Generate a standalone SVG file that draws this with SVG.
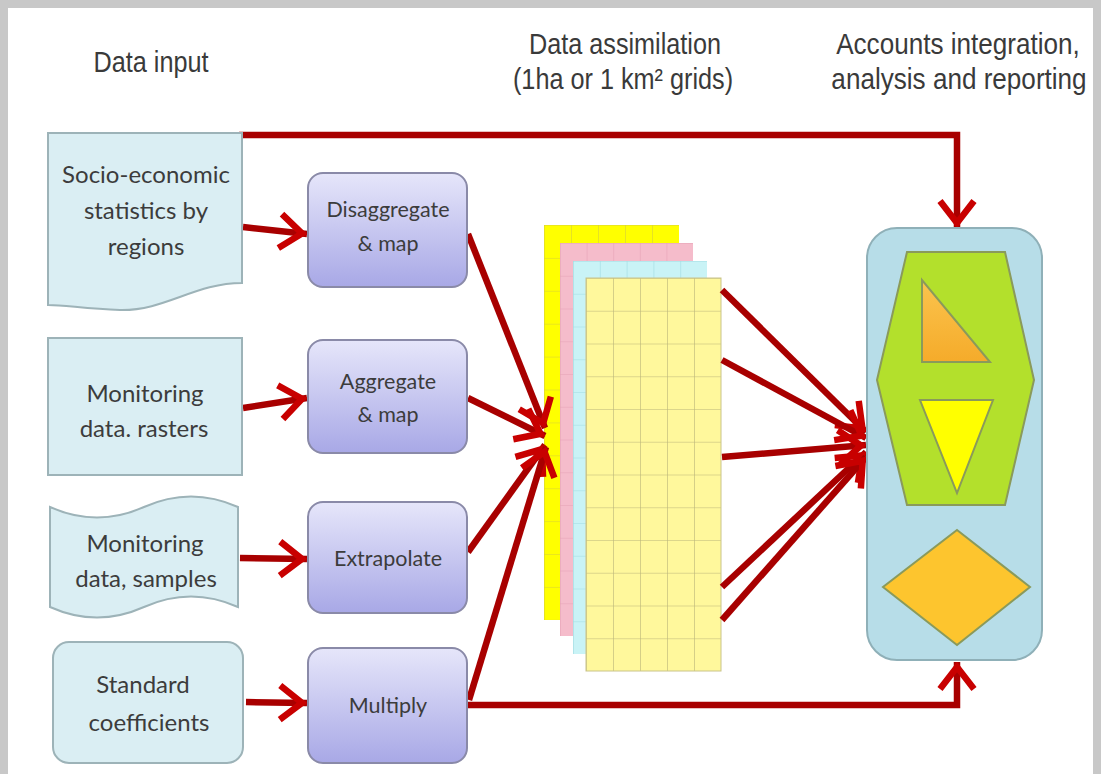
<svg xmlns="http://www.w3.org/2000/svg" width="1101" height="774" viewBox="0 0 1101 774">
<defs>
<style>
.title{font-family:"Liberation Sans",Arial,sans-serif;font-size:29px;fill:#3a3a3a;text-anchor:middle}
.lt{font-family:Lato,"Open Sans",sans-serif;font-size:24px;fill:#3c3c3c;text-anchor:middle}
.pt{font-family:Lato,"Open Sans",sans-serif;font-size:21.5px;fill:#3c3c3c;text-anchor:middle}
.inp{fill:#daeef3;stroke:#9db3b8;stroke-width:2}
.proc{fill:url(#pg);stroke:#8a8aa8;stroke-width:2}
.con{fill:none;stroke:#a80000;stroke-width:6.5;marker-end:url(#ah)}
.shp{stroke:#8a9a5b;stroke-width:2}
</style>
<linearGradient id="pg" x1="0" y1="0" x2="0" y2="1">
<stop offset="0" stop-color="#e6e6fa"/>
<stop offset="1" stop-color="#a8a8e6"/>
</linearGradient>
<linearGradient id="og" x1="0" y1="0" x2="0" y2="1">
<stop offset="0" stop-color="#fbc44e"/>
<stop offset="1" stop-color="#f5ab2a"/>
</linearGradient>
<marker id="ah" markerUnits="userSpaceOnUse" markerWidth="50" markerHeight="50" viewBox="-36 -25 50 50" refX="0" refY="0" orient="auto" overflow="visible">
<path d="M-27,-17 L-5,0 L-27,17" fill="none" stroke="#c80000" stroke-width="6.5"/>
</marker>
<pattern id="gFront" patternUnits="userSpaceOnUse" x="586" y="278" width="27" height="32.75">
<path d="M0,0 H27 M0,0 V32.75" stroke="#b9b47a" stroke-width="1.2" fill="none"/>
</pattern>
<pattern id="gYel" patternUnits="userSpaceOnUse" x="544" y="225" width="27" height="32.9">
<path d="M0,0 H27 M0,0 V32.9" stroke="#d6cf3a" stroke-width="1.2" fill="none"/>
</pattern>
<pattern id="gPink" patternUnits="userSpaceOnUse" x="560" y="243" width="26.6" height="32.75">
<path d="M0,0 H26.6 M0,0 V32.75" stroke="#e6a2b6" stroke-width="1.2" fill="none"/>
</pattern>
<pattern id="gCyan" patternUnits="userSpaceOnUse" x="573" y="261" width="26.8" height="32.75">
<path d="M0,0 H26.8 M0,0 V32.75" stroke="#9fdbe2" stroke-width="1.2" fill="none"/>
</pattern>
</defs>

<rect width="1101" height="774" fill="#ffffff"/>
<g id="frame" fill="#c8c8c8">
<rect x="0" y="0" width="1101" height="8"/>
<rect x="0" y="0" width="8" height="774"/>
<rect x="1093" y="0" width="8" height="774"/>
</g>

<g id="titles">
<text class="title" transform="translate(151,72) scale(0.87,1)">Data input</text>
<text class="title" transform="translate(625,54) scale(0.87,1)">Data assimilation</text>
<text class="title" transform="translate(623,89) scale(0.87,1)">(1ha or 1 km² grids)</text>
<text class="title" transform="translate(958,54) scale(0.9,1)">Accounts integration,</text>
<text class="title" transform="translate(959,89) scale(0.9,1)">analysis and reporting</text>
</g>

<g id="grids">
<rect x="544" y="225" width="135" height="395" fill="#ffff00"/>
<rect x="544" y="225" width="135" height="395" fill="url(#gYel)"/>
<rect x="560" y="243" width="133" height="393" fill="#f5bccb"/>
<rect x="560" y="243" width="133" height="393" fill="url(#gPink)"/>
<rect x="573" y="261" width="134" height="393" fill="#c9f3f6"/>
<rect x="573" y="261" width="134" height="393" fill="url(#gCyan)"/>
<rect x="586" y="278" width="135" height="393" fill="#fff89c"/>
<rect x="586" y="278" width="135" height="393" fill="url(#gFront)" stroke="#c9c48a" stroke-width="1"/>
</g>

<g id="connectors">
<path class="con" d="M239,135 H957 V228"/>
<path class="con" d="M467,705 H957 V662"/>
<path class="con" d="M243,227 L307,234"/>
<path class="con" d="M243,408 L307,398"/>
<path class="con" d="M240,558 L307,559"/>
<path class="con" d="M246,702 L307,703"/>
<path class="con" d="M468,234 L545,428"/>
<path class="con" d="M468,398 L545,436"/>
<path class="con" d="M468,552 L545,445"/>
<path class="con" d="M469,700 L546,447"/>
<path class="con" d="M722,290 L866,432"/>
<path class="con" d="M722,360 L866,438"/>
<path class="con" d="M722,457 L866,445"/>
<path class="con" d="M722,587 L866,452"/>
<path class="con" d="M722,620 L866,457"/>
</g>

<g id="n-socio">
<path class="inp" d="M48,133 H242 V283 C195,283 165,311 120,310 C85,309 66,305 48,305 Z"/>
<text class="lt" x="146" y="183">Socio-economic</text>
<text class="lt" x="146" y="219">statistics by</text>
<text class="lt" x="146" y="255">regions</text>
</g>
<g id="n-rasters">
<rect class="inp" x="48" y="338" width="194" height="137"/>
<text class="lt" x="145" y="402">Monitoring</text>
<text class="lt" x="144" y="437">data. rasters</text>
</g>
<g id="n-samples">
<path class="inp" d="M50,507 Q97,528 144,507 T238,507 V607 Q191,586 144,607 T50,607 Z"/>
<text class="lt" x="145" y="552">Monitoring</text>
<text class="lt" x="146" y="587">data, samples</text>
</g>
<g id="n-coeff">
<rect class="inp" x="53" y="642" width="190" height="121" rx="16"/>
<text class="lt" x="143" y="693">Standard</text>
<text class="lt" x="149" y="731">coefficients</text>
</g>

<g id="n-disagg">
<rect class="proc" x="308" y="173" width="159" height="114" rx="15"/>
<text class="pt" x="388" y="217">Disaggregate</text>
<text class="pt" x="388" y="251">&amp; map</text>
</g>
<g id="n-agg">
<rect class="proc" x="308" y="340" width="159" height="113" rx="15"/>
<text class="pt" x="388" y="389">Aggregate</text>
<text class="pt" x="388" y="422">&amp; map</text>
</g>
<g id="n-extra">
<rect class="proc" x="308" y="502" width="159" height="111" rx="15"/>
<text class="pt" x="388" y="566">Extrapolate</text>
</g>
<g id="n-mult">
<rect class="proc" x="308" y="648" width="159" height="115" rx="15"/>
<text class="pt" x="388" y="713">Multiply</text>
</g>

<g id="n-accounts">
<rect x="867" y="228" width="175" height="432" rx="30" fill="#b7dde8" stroke="#8fb0b8" stroke-width="2"/>
<polygon class="shp" points="907,252 1005,252 1034,380 1005,505 907,505 877,380" fill="#b3e02c"/>
<polygon class="shp" points="922,280 922,362 990,362" fill="url(#og)"/>
<polygon class="shp" points="920,400 993,400 957,493" fill="#ffff00"/>
<polygon class="shp" points="957,530 1030,587 957,645 883,587" fill="#fdc52e"/>
</g>
</svg>
